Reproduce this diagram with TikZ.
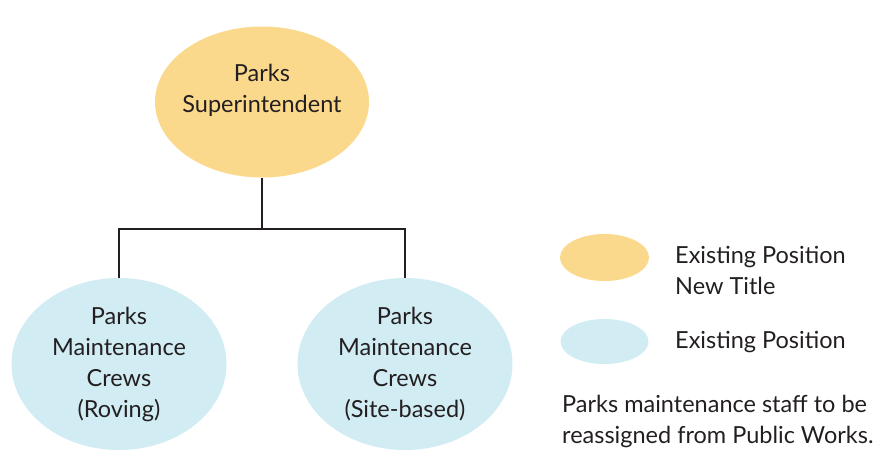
\documentclass[tikz,border=0pt]{standalone}
\usepackage{fontspec}
\setmainfont{Lato}
\usetikzlibrary{shapes.geometric, positioning, calc}

\definecolor{newtitle}{HTML}{FBD98C}
\definecolor{existing}{HTML}{D2ECF4}
\definecolor{inkgray}{HTML}{231F20}

\begin{document}
\begin{tikzpicture}[
		x=1pt, y=-1pt,
		font=\fontsize{23.5}{31}\selectfont,
		% Style for the position ellipses
		position/.style={
			ellipse, draw=none, inner sep=0pt,
			minimum width=215pt, minimum height=172pt
		},
		% Style for the texts in and beside them
		textnode/.style={align=center, text=inkgray, inner sep=0pt},
		keynode/.style={align=left, text=inkgray, inner sep=0pt, anchor=west},
		linkline/.style={draw=inkgray, line width=2.3pt}
		]
		
		\useasboundingbox (0,0) rectangle (893,451);
		
		% --- 1. TOP POSITION ---
		\node[position, fill=newtitle, minimum width=214pt, minimum height=151pt] (sup) at (262,102) {};
		\node[textnode] (supt) at (262,90) {Parks\\Superintendent};
		
		% --- 2. CREWS ---
		\node[position, fill=existing] (rov) at (119,364) {};
		\node[textnode] (rovt) at (rov) {Parks\\Maintenance\\Crews\\(Roving)};
		
		\node[position, fill=existing] (site) at (405,364) {};
		\node[textnode] (sitet) at (site) {Parks\\Maintenance\\Crews\\(Site-based)};
		
		% --- LINES ---
		\coordinate (jn) at (262,229);
		\draw[linkline] (sup.south) -- (jn);
		\draw[linkline] (rov.north) |- (jn) -| (site.north);
		
		% --- LEGEND ---
		\node[ellipse, fill=newtitle, minimum width=89pt, minimum height=47pt, inner sep=0pt] (keynew) at (604.5,257.5) {};
		\node[keynode] (keynewt) at (675,270) {Existing Position\\New Title};
		
		\node[ellipse, fill=existing, minimum width=88pt, minimum height=45pt, inner sep=0pt] (keyold) at (604.5,341.5) {};
		\node[keynode] (keyoldt) at (675,342) {Existing Position};
		
		\node[keynode] (note) at (562,421) {Parks maintenance staff to be\\reassigned from Public Works.};
		
	\end{tikzpicture}
\end{document}
